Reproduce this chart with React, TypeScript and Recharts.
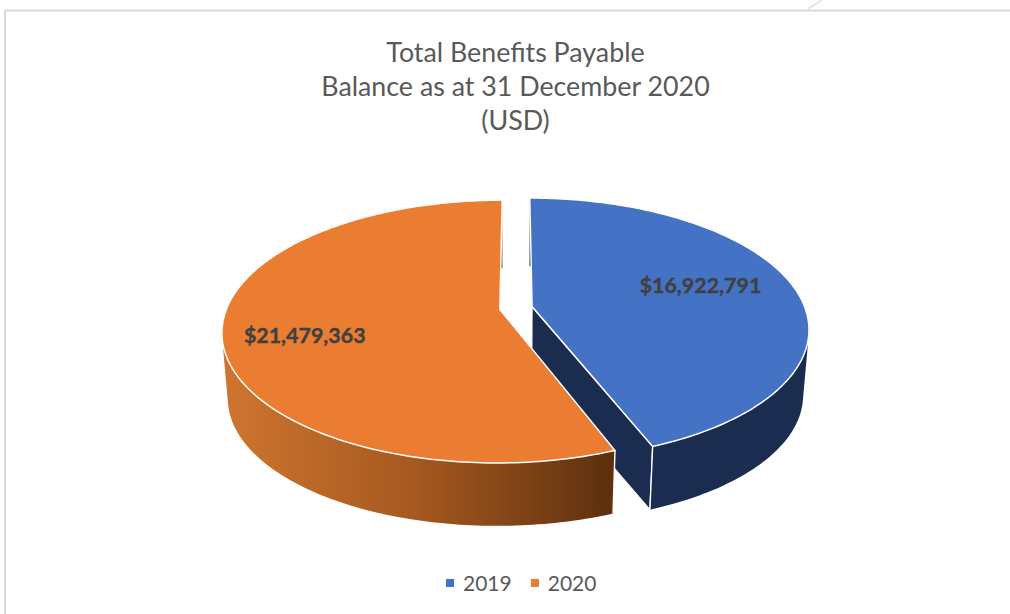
import React from 'react'
import { PieChart, Pie } from 'recharts'

const categories = ['2019', '2020']
const balances = [16922791, 21479363]
const titleLines = ['Total Benefits Payable', 'Balance as at 31 December 2020', '(USD)']

const topColors = ['#4472c4', '#eb7d32']
const wallColors = ['#1a2c50', 'url(#orangeWall)']
const labelRadii = [0.663, 0.715]

const FONT = 'Lato, "Open Sans", sans-serif'

// fake 3D: the pie is a disc seen from above, with perspective
const TILT = 0.466
const PERSP = 0.168
const EXPLODE = 0.06
const DROP = 66
const BOTTOM_SCALE = 0.98

const toRad = (d: number) => (d * Math.PI) / 180

// clock = degrees clockwise from 12 o'clock
const project = (p: any, clock: number, r: number, bottom = false) => {
  const mid = toRad(p.mid)
  const u = Math.sin(toRad(clock)) * r + Math.sin(mid) * EXPLODE
  const v = -Math.cos(toRad(clock)) * r - Math.cos(mid) * EXPLODE
  const k = bottom ? BOTTOM_SCALE : 1
  const w = 1 - PERSP * v
  return {
    x: p.cx + (p.radius * k * u) / w,
    y: p.cy + (bottom ? DROP : 0) + (p.radius * k * TILT * v) / w
  }
}

type Pt = { x: number; y: number }

const toLine = (pts: Pt[]) => 'M' + pts.map((a) => `${a.x.toFixed(2)},${a.y.toFixed(2)}`).join('L')
const toPath = (pts: Pt[]) => toLine(pts) + 'Z'

const area = (pts: Pt[]) =>
  pts.reduce((sum, a, i) => {
    const b = pts[(i + 1) % pts.length]
    return sum + a.x * b.y - b.x * a.y
  }, 0)

// one quad per rim step, all wound the same way so the fold at the silhouette stays filled
const wallPath = (top: Pt[], low: Pt[]) => {
  let d = ''
  for (let i = 0; i < top.length - 1; i++) {
    const quad = [top[i], top[i + 1], low[i + 1], low[i]]
    d += toPath(area(quad) < 0 ? quad.reverse() : quad)
  }
  return d
}

const Slice3D = (props: any) => {
  const from = 90 - props.startAngle
  const to = 90 - props.endAngle
  const p = { cx: props.cx, cy: props.cy, radius: props.outerRadius, mid: (from + to) / 2 }
  const idx = categories.indexOf(props.name)

  const rim: number[] = []
  for (let a = from; a < to; a += 1) rim.push(a)
  rim.push(to)

  const topRim = rim.map((a) => project(p, a, 1))
  const lowRim = rim.map((a) => project(p, a, 1, true))
  const apex = project(p, 0, 0)
  const apexLow = project(p, 0, 0, true)
  // front edge of the wall, only the 2019 slice shows its cut face
  const edgeTop = idx === 0 ? topRim[topRim.length - 1] : topRim[0]
  const edgeLow = idx === 0 ? lowRim[lowRim.length - 1] : lowRim[0]

  return (
    <g>
      {idx === 0 && (
        <path d={toPath([apex, edgeTop, edgeLow, apexLow])} fill="#1a2c50" stroke="#fff" strokeWidth={1.2} />
      )}
      <path d={wallPath(topRim, lowRim)} fill={wallColors[idx]} />
      <path d={toLine([edgeTop, edgeLow])} fill="none" stroke="#fff" strokeWidth={1.4} />
      <path d={toPath([apex, ...topRim])} fill={props.fill} stroke="#fff" strokeWidth={1.5} />
    </g>
  )
}

const SliceLabel = (props: any) => {
  const p = { cx: props.cx, cy: props.cy, radius: props.outerRadius, mid: 90 - props.midAngle }
  const idx = categories.indexOf(props.name)
  const pos = project(p, p.mid - 5, labelRadii[idx])
  return (
    <text x={pos.x} y={pos.y} textAnchor="middle" dominantBaseline="central" fontFamily={FONT} fontSize={21.4} fontWeight={700} fill="#404040" stroke="#404040" strokeWidth={0.4}>
      {'$' + props.value.toLocaleString('en-US')}
    </text>
  )
}

export default function App() {
  const data = categories.map((name, i) => ({ name, value: balances[i], fill: topColors[i] }))

  return (
    <div style={{ position: 'absolute', left: 0, top: 0, width: 1010, height: 614, background: '#fff', overflow: 'hidden', fontFamily: FONT }}>
      <svg width={1010} height={614} style={{ position: 'absolute', left: 0, top: 0 }}>
        <line x1={5} y1={10.5} x2={1010} y2={10.5} stroke="#d9d9d9" strokeWidth={2} />
        <line x1={5} y1={10} x2={5} y2={614} stroke="#d9d9d9" strokeWidth={2} />
        <line x1={808} y1={9} x2={822} y2={0} stroke="#e4e4e4" strokeWidth={2} />
      </svg>

      <div style={{ position: 'absolute', left: 0, top: 0 }}>
        <PieChart width={1010} height={614}>
          <defs>
            <linearGradient id="orangeWall" x1="0" y1="0" x2="1" y2="0">
              <stop offset="0%" stopColor="#cf7530" />
              <stop offset="50%" stopColor="#a5581f" />
              <stop offset="100%" stopColor="#5c2f0e" />
            </linearGradient>
          </defs>
          <Pie
            data={data}
            dataKey="value"
            nameKey="name"
            cx={511}
            cy={303}
            outerRadius={273}
            startAngle={90}
            endAngle={-270}
            shape={Slice3D}
            label={SliceLabel}
            labelLine={false}
            isAnimationActive={false}
          />
        </PieChart>
      </div>

      <div style={{ position: 'absolute', left: 0, top: 35, width: 1031, textAlign: 'center', color: '#595959', fontSize: 26.8, lineHeight: '34px' }}>
        {titleLines.map((t) => (
          <div key={t}>{t}</div>
        ))}
      </div>

      <div style={{ position: 'absolute', left: 446, top: 568, display: 'flex', alignItems: 'center', color: '#595959', fontSize: 21, lineHeight: '30px' }}>
        {categories.map((c, i) => (
          <React.Fragment key={c}>
            <span style={{ width: 8, height: 8, background: topColors[i], marginRight: 9 }} />
            <span style={{ marginRight: i === 0 ? 19 : 0 }}>{c}</span>
          </React.Fragment>
        ))}
      </div>
    </div>
  )
}
